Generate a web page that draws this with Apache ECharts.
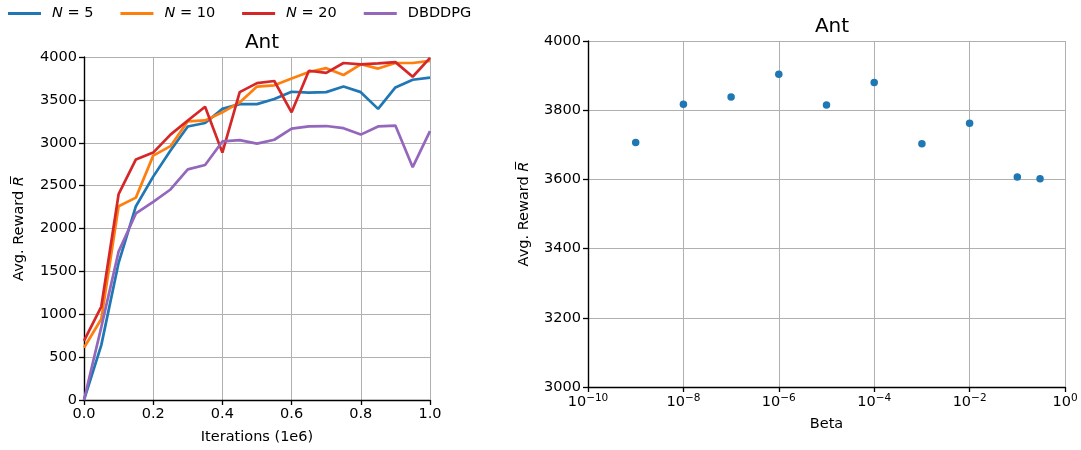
<!DOCTYPE html>
<html>
<head>
<meta charset="utf-8">
<script src="https://cdn.jsdelivr.net/npm/echarts@6/dist/echarts.min.js"></script>
<style>
  html, body { margin: 0; padding: 0; background: #fff; }
  #chart { width: 1081px; height: 450px; }
</style>
</head>
<body>
<div id="chart"></div>
<script>
// left panel: reward vs iterations
const iterations = [0, 0.05, 0.1, 0.15, 0.2, 0.25, 0.3, 0.35, 0.4, 0.45, 0.5,
                    0.55, 0.6, 0.65, 0.7, 0.75, 0.8, 0.85, 0.9, 0.95, 1.0];
const rewardN5 = [0, 640, 1600, 2260, 2605, 2910, 3190, 3230, 3395, 3450, 3450,
                  3510, 3595, 3585, 3590, 3655, 3590, 3395, 3645, 3735, 3760];
const rewardN10 = [610, 945, 2260, 2360, 2850, 2960, 3250, 3260, 3355, 3470, 3655,
                   3670, 3750, 3825, 3870, 3790, 3915, 3865, 3930, 3930, 3955];
const rewardN20 = [690, 1090, 2400, 2805, 2885, 3095, 3260, 3420, 2885, 3590, 3695,
                   3720, 3355, 3840, 3815, 3930, 3915, 3925, 3940, 3770, 3990];
const rewardDBDDPG = [0, 850, 1730, 2175, 2310, 2455, 2690, 2740, 3015, 3030, 2990,
                      3035, 3165, 3190, 3195, 3170, 3095, 3190, 3200, 2715, 3135];

// right panel: reward vs beta (x drawn on a log10 scale)
const betas = [1e-9, 1e-8, 1e-7, 1e-6, 1e-5, 1e-4, 1e-3, 1e-2, 1e-1, 0.3];
const betaReward = [3707, 3817, 3838, 3904, 3815, 3880, 3703, 3762, 3607, 3602];

const seriesNames = ['N = 5', 'N = 10', 'N = 20', 'DBDDPG'];
const seriesColors = ['#1f77b4', '#ff7f0e', '#d62728', '#9467bd'];
const seriesData = [rewardN5, rewardN10, rewardN20, rewardDBDDPG];

const FONT = 'DejaVu Sans';
const FS = 14.5;
const chart = echarts.init(document.getElementById('chart'), null, { renderer: 'canvas' });

const axisCommon = {
    axisLine: { show: true, onZero: false, lineStyle: { color: '#000', width: 1.4 } },
    axisTick: { show: true, length: 5, lineStyle: { color: '#000', width: 1.3 } },
    axisLabel: { color: '#000', fontFamily: FONT, fontSize: FS, margin: 7, formatter: v => String(v) },
    splitLine: { show: true, lineStyle: { color: '#b0b0b0', width: 1 } },
    nameTextStyle: {
        color: '#000', fontFamily: FONT, fontSize: FS,
        rich: { i: { fontFamily: FONT, fontSize: FS, fontStyle: 'italic', color: '#000' } }
    }
};

const lineSeries = seriesNames.map((name, i) => ({
    name: name,
    type: 'line',
    xAxisIndex: 0,
    yAxisIndex: 0,
    showSymbol: false,
    symbol: 'none',
    data: iterations.map((x, k) => [x, seriesData[i][k]]),
    lineStyle: { color: seriesColors[i], width: 2.7 },
    itemStyle: { color: seriesColors[i] },
    z: 3 + i
}));

const option = {
    animation: false,
    backgroundColor: '#fff',
    textStyle: { fontFamily: FONT },
    title: [
        { text: 'Ant', left: 257, top: 28, textAlign: 'center',
          textStyle: { fontFamily: FONT, fontSize: 20, fontWeight: 'normal', color: '#000' } },
        { text: 'Ant', left: 827, top: 12, textAlign: 'center',
          textStyle: { fontFamily: FONT, fontSize: 20, fontWeight: 'normal', color: '#000' } }
    ],
    legend: {
        left: 8,
        top: 6,
        padding: 0,
        itemWidth: 33,
        itemHeight: 3,
        itemGap: 27,
        icon: 'rect',
        data: seriesNames,
        formatter: name => name.startsWith('N') ? '{i|N}' + name.slice(1) : name,
        textStyle: {
            fontFamily: FONT, fontSize: FS, color: '#000', padding: [0, 0, 0, 6],
            rich: { i: { fontFamily: FONT, fontSize: FS, fontStyle: 'italic', color: '#000' } }
        }
    },
    grid: [
        { left: 84, top: 57, width: 346, height: 345 },
        { left: 588, top: 41, width: 477, height: 346 }
    ],
    xAxis: [
        Object.assign({}, axisCommon, {
            gridIndex: 0, type: 'value', min: 0, max: 1, interval: 0.2,
            name: 'Iterations (1e6)', nameLocation: 'middle', nameGap: 30,
            axisLabel: Object.assign({}, axisCommon.axisLabel, {
                formatter: v => v.toFixed(1)
            })
        }),
        Object.assign({}, axisCommon, {
            gridIndex: 1, type: 'value', min: -10, max: 0, interval: 2,
            name: 'Beta', nameLocation: 'middle', nameGap: 30,
            axisLabel: Object.assign({}, axisCommon.axisLabel, {
                margin: 6,
                formatter: v => '{b|10}{s|' + (v < 0 ? '\u2212' + (-v) : v) + '}',
                rich: {
                    b: { fontFamily: FONT, fontSize: FS, color: '#000' },
                    s: { fontFamily: FONT, fontSize: 10.5, color: '#000', verticalAlign: 'top', padding: [0, 0, 8, 0] }
                }
            })
        })
    ],
    yAxis: [
        Object.assign({}, axisCommon, {
            gridIndex: 0, type: 'value', min: 0, max: 4000, interval: 500,
            name: 'Avg. Reward {i|R\u0305}', nameLocation: 'middle', nameGap: 57, nameRotate: 90
        }),
        Object.assign({}, axisCommon, {
            gridIndex: 1, type: 'value', min: 3000, max: 4000, interval: 200,
            name: 'Avg. Reward {i|R\u0305}', nameLocation: 'middle', nameGap: 56, nameRotate: 90
        })
    ],
    series: lineSeries.concat([{
        name: 'beta',
        type: 'scatter',
        xAxisIndex: 1,
        yAxisIndex: 1,
        symbolSize: 7.5,
        data: betas.map((b, k) => [Math.log10(b), betaReward[k]]),
        itemStyle: { color: '#1f77b4', opacity: 1 }
    }])
};

chart.setOption(option);
</script>
</body>
</html>
